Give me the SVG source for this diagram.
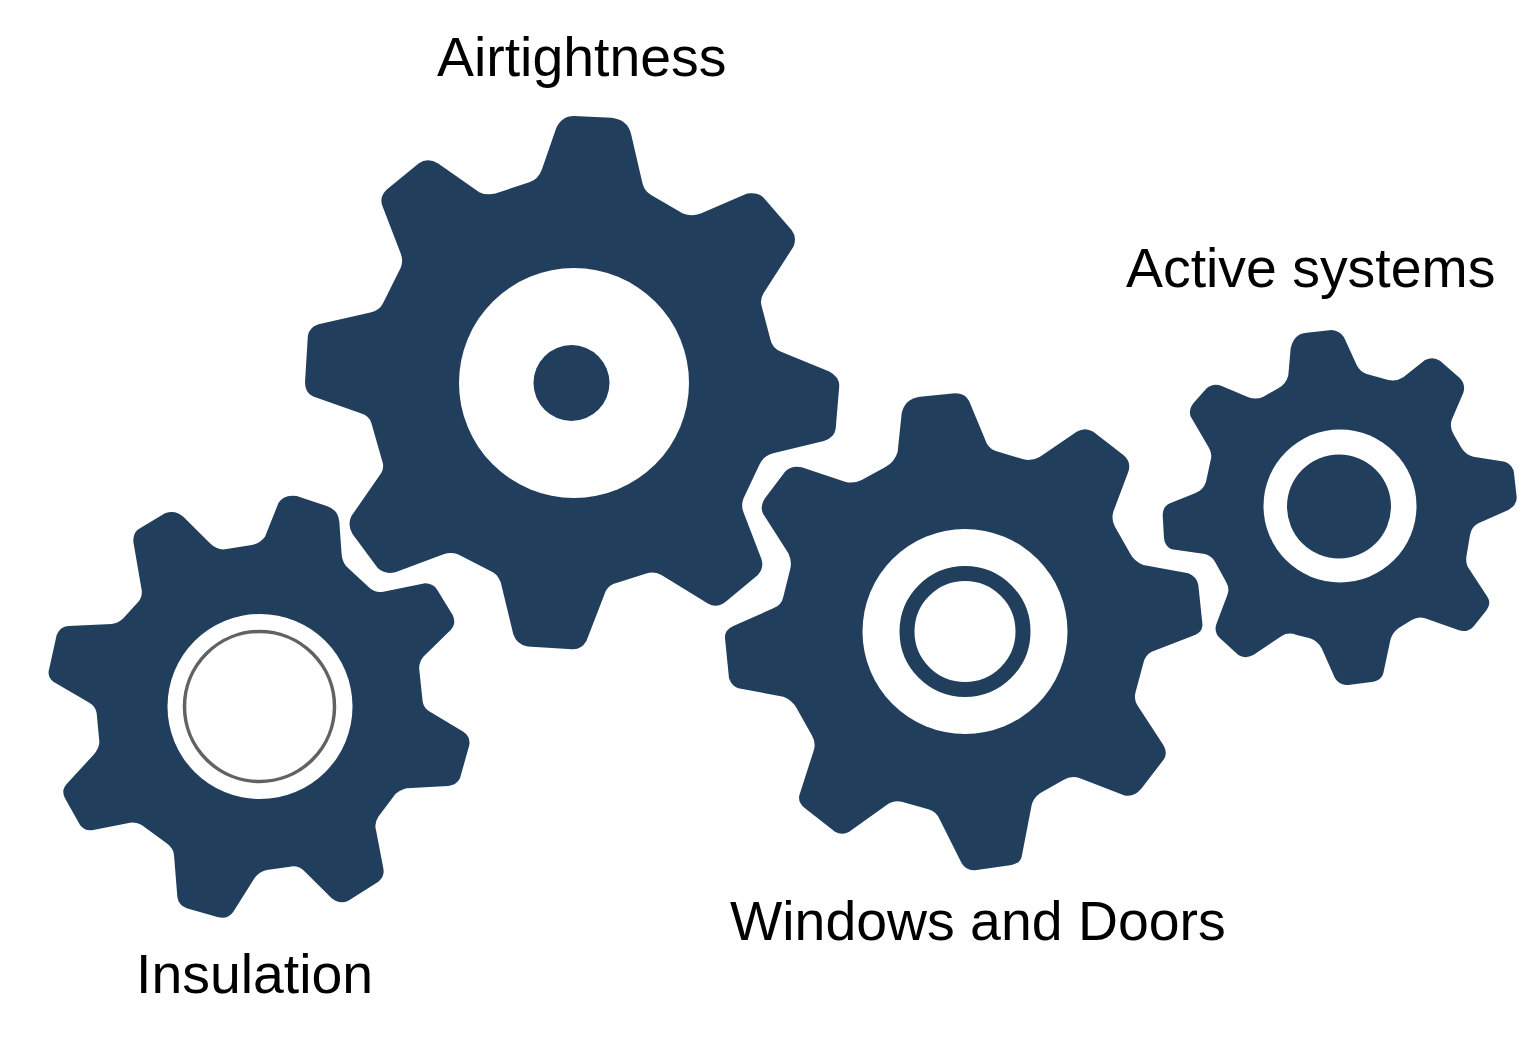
<svg xmlns="http://www.w3.org/2000/svg" width="1532" height="1063" viewBox="0 0 1532 1063">
<style>
.gear{fill:#213f5c}
.hole{fill:#fff}
.core{fill:#213f5c}
text{font-family:"Liberation Sans",Arial,sans-serif;font-size:55.4px;fill:#000}
</style>
<rect width="1532" height="1063" fill="#fff"/>
<g id="airtightness">
<path class="gear" transform="translate(290 100) scale(.35714)" d="M745 80Q760 45 795 45L900 50Q945 55 955 95L985 225Q990 255 1010 265L1100 318Q1125 328 1150 318L1280 262Q1310 258 1325 272L1405 365Q1420 385 1410 410L1330 535Q1315 555 1320 575L1345 670Q1350 695 1375 705L1510 760Q1538 775 1538 800L1528 920Q1525 945 1495 955L1350 990Q1325 998 1315 1020L1270 1115Q1262 1135 1270 1155L1320 1285Q1328 1310 1310 1330L1220 1405Q1195 1425 1170 1410L1040 1330Q1020 1320 1000 1325L905 1355Q885 1365 880 1385L830 1515Q815 1540 790 1538L665 1530Q635 1525 625 1495L590 1350Q580 1325 560 1318L470 1272Q450 1265 430 1272L295 1322Q265 1330 245 1310L175 1215Q160 1190 172 1165L255 1045Q265 1030 258 1010L228 905Q222 885 200 878L65 830Q42 820 42 790L50 660Q55 635 80 628L225 595Q250 590 260 570L310 470Q318 450 310 430L258 295Q250 270 272 250L360 178Q385 160 415 178L530 258Q550 268 575 262L670 230Q695 222 705 195Z"/>
<circle class="hole" cx="574" cy="383" r="115"/>
<circle class="core" cx="571.5" cy="383" r="38"/>
<text x="437" y="76">Airtightness</text>
</g>
<g id="insulation">
<path class="gear" transform="translate(30 480) scale(.33333)" d="M745 70Q760 42 800 48L890 78Q925 90 928 125L935 225Q938 250 955 265L1015 320Q1035 340 1060 335L1185 310Q1210 310 1222 330L1268 405Q1280 430 1262 450L1180 530Q1165 550 1168 570L1178 665Q1182 685 1200 695L1300 755Q1322 770 1318 795L1290 895Q1280 915 1255 918L1130 925Q1105 930 1090 950L1045 1010Q1032 1030 1038 1050L1060 1165Q1065 1190 1045 1205L955 1262Q930 1275 905 1255L825 1175Q805 1155 780 1160L710 1170Q685 1175 670 1200L610 1295Q595 1318 565 1312L470 1285Q445 1275 442 1250L432 1125Q430 1105 410 1090L335 1035Q320 1025 300 1028L190 1050Q165 1055 150 1035L105 955Q92 930 112 910L190 825Q208 805 208 785L200 700Q198 680 178 668L70 605Q50 590 58 565L80 465Q90 440 115 438L245 432Q265 430 280 415L325 365Q338 350 335 330L310 185Q308 155 335 142L405 100Q435 88 460 110L540 190Q560 210 585 208L665 195Q690 190 705 170Z"/>
<circle class="hole" cx="260" cy="706.5" r="92.5"/>
<circle cx="259.5" cy="706.5" r="75" fill="none" stroke="#5f6365" stroke-width="3.5"/>
<text x="136" y="993">Insulation</text>
</g>
<g id="windows-and-doors">
<path class="gear" transform="translate(715 380) scale(.33333)" d="M560 100Q570 55 615 50L720 40Q750 40 762 62L815 190Q825 210 850 215L925 238Q950 245 975 230L1085 155Q1110 140 1135 155L1225 225Q1250 245 1240 275L1195 395Q1188 420 1200 440L1245 520Q1258 545 1285 555L1420 580Q1445 590 1450 615L1462 730Q1465 755 1440 765L1310 815Q1290 825 1285 850L1262 935Q1255 960 1270 980L1345 1095Q1360 1120 1345 1140L1280 1225Q1255 1255 1225 1245L1095 1195Q1070 1185 1045 1200L975 1240Q955 1255 950 1275L920 1430Q915 1450 890 1455L785 1470Q755 1475 740 1450L675 1320Q665 1295 640 1288L560 1265Q535 1260 515 1275L410 1350Q385 1370 360 1355L270 1285Q245 1265 255 1240L295 1115Q305 1090 290 1065L245 985Q232 960 205 950L70 925Q50 918 42 895L30 775Q28 750 55 738L175 685Q200 675 205 650L225 570Q232 545 220 520L150 410Q130 385 150 355L210 275Q230 255 260 262L390 305Q415 312 440 300L510 262Q540 245 548 215Z"/>
<circle class="hole" cx="965" cy="631.5" r="102.5"/>
<circle cx="965" cy="631.5" r="58" fill="none" stroke="#213f5c" stroke-width="15"/>
<text x="730" y="940">Windows and Doors</text>
</g>
<g id="active-systems">
<path class="gear" transform="translate(1150 320) scale(.33333)" d="M422 85Q432 40 470 38L545 30Q570 32 582 52L620 135Q630 155 650 162L715 180Q740 185 760 172L825 120Q850 108 870 122L930 175Q948 195 940 218L905 300Q898 325 912 345L935 385Q948 405 970 410L1065 425Q1090 435 1092 460L1100 530Q1102 555 1075 570L985 610Q965 620 960 645L950 705Q945 730 958 748L1012 830Q1025 850 1010 870L970 920Q950 940 925 930L825 895Q805 888 785 900L745 925Q725 940 720 965L700 1060Q695 1080 670 1085L595 1095Q570 1098 555 1075L515 985Q505 965 480 955L440 945Q415 935 395 948L310 1005Q285 1018 265 1005L210 955Q190 935 200 910L232 825Q240 805 228 785L195 725Q185 708 165 702L65 688Q45 680 42 655L38 585Q38 560 60 550L135 520Q160 510 168 485L182 420Q188 400 175 380L125 295Q112 275 130 250L170 205Q190 188 215 198L295 232Q320 240 340 230L385 205Q410 190 415 165Z"/>
<circle class="hole" cx="1340" cy="506" r="76.5"/>
<circle class="core" cx="1339" cy="506.5" r="52"/>
<text x="1126" y="287">Active systems</text>
</g>
</svg>
